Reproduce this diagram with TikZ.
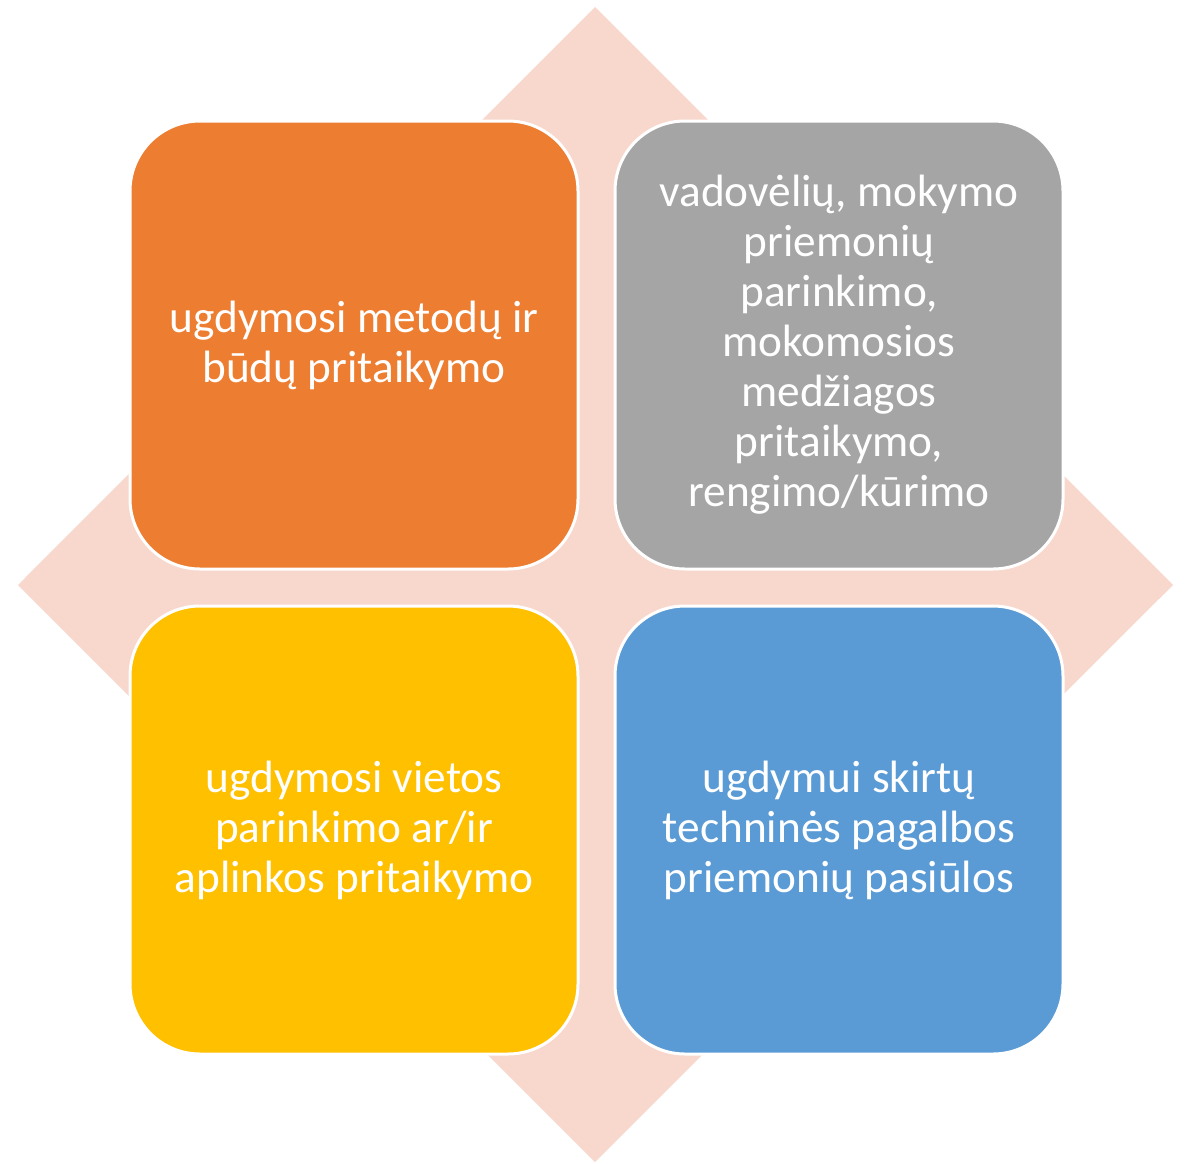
\documentclass[tikz,border=0pt]{standalone}
\usepackage{fontspec}
\setmainfont{Carlito}
\usetikzlibrary{calc}
\definecolor{box_orange}{HTML}{ED7D31}
\definecolor{box_gray}{HTML}{A5A5A5}
\definecolor{box_yellow}{HTML}{FFC000}
\definecolor{box_blue}{HTML}{5B9BD5}
\definecolor{diamond_pink}{HTML}{F8D8CD}
\tikzset{ b/.style = { rectangle % box
        , rounded corners = 70pt
        , draw = white
        , line width = 3pt
        , minimum width = 448pt
        , minimum height = 448pt
        , inner sep = 0pt
        , align = center
        , text = white
        , font = \fontsize{45.3}{50}\selectfont
        }
        }

\begin{document}
\begin{tikzpicture}[x=1pt, y=-1pt]
        \useasboundingbox (0,0) rectangle (1189,1163);
        % background diamond
        \coordinate (top) at (595,7);
        \coordinate (right) at (1173,585);
        \coordinate (bottom) at (595,1162);
        \coordinate (left) at (18,585);
        \fill [diamond_pink] (top) -- (right) -- (bottom) -- (left) -- cycle;

        \node [b,fill=box_orange](q1) at (354,345) {ugdymosi metodų ir\\būdų pritaikymo};
        \node [b,fill=box_gray](q2) at (839,345) {vadovėlių, mokymo\\priemonių\\parinkimo,\\mokomosios\\medžiagos\\pritaikymo,\\rengimo/kūrimo};
        \node [b,fill=box_yellow](q3) at (354,830) {ugdymosi vietos\\parinkimo ar/ir\\aplinkos pritaikymo};
        \node [b,fill=box_blue](q4) at (839,830) {ugdymui skirtų\\techninės pagalbos\\priemonių pasiūlos};
\end{tikzpicture}
\end{document}
